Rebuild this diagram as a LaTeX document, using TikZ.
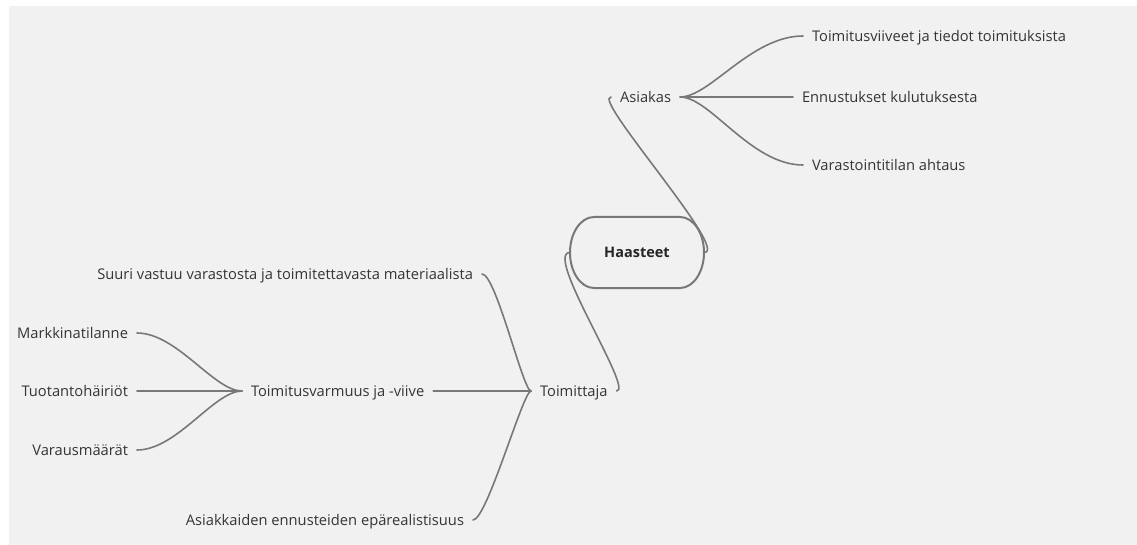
\documentclass[tikz,border=0pt]{standalone}
\usepackage{fontspec}
\setmainfont{Open Sans}
\definecolor{canvas}{HTML}{F1F1F1}
\definecolor{ink}{HTML}{353535}
\definecolor{wire}{HTML}{787878}
\begin{document}
\begin{tikzpicture}[x=1pt,y=-1pt,
  label/.style={inner xsep=9pt,inner ysep=2pt,outer sep=0pt,text=ink,
    text height=14pt,text depth=3pt,
    font=\fontsize{14.7}{17}\selectfont},
  link/.style={draw=wire,line width=1.6pt,line cap=round},
  hub/.style={draw=wire,line width=2pt}]
% page and canvas
\useasboundingbox (0,0) rectangle (1137,545);
\fill[white] (0,0) rectangle (1137,545);
\fill[canvas] (9,6) rectangle (1137,545);

% central topic
\node[minimum width=134pt,minimum height=71pt,inner sep=0pt,outer sep=0pt,
  text=black!85,font=\fontsize{14.5}{17}\bfseries\selectfont] (h) at (637,252.5) {Haasteet};
\draw[hub] (h.north west) ++(24,0)
  arc[start angle=270,end angle=180,x radius=24,y radius=35.5]
  arc[start angle=180,end angle=90,x radius=24,y radius=35.5]
  -- ++(86,0)
  arc[start angle=90,end angle=-90,x radius=24,y radius=35.5]
  -- cycle;

% right branch
\node[label,anchor=west] (asiakas) at (611,97) {Asiakas};
\node[label,anchor=west] (r1) at (803,36) {Toimitusviiveet ja tiedot toimituksista};
\node[label,anchor=west] (r2) at (793,97) {Ennustukset kulutuksesta};
\node[label,anchor=west] (r3) at (803,165) {Varastointitilan ahtaus};

% left branch
\node[label,anchor=west] (toimittaja) at (531,391) {Toimittaja};
\node[label,anchor=east] (l1) at (482,274) {Suuri vastuu varastosta ja toimitettavasta materiaalista};
\node[label,anchor=west] (l2) at (242,391) {Toimitusvarmuus ja -viive};
\node[label,anchor=east] (l3) at (473,520) {Asiakkaiden ennusteiden epärealistisuus};
\node[label,anchor=east] (m1) at (137,333) {Markkinatilanne};
\node[label,anchor=east] (m2) at (137,391) {Tuotantohäiriöt};
\node[label,anchor=east] (m3) at (137,450) {Varausmäärät};

% connectors from the central topic
\draw[link] (h.east) .. controls +(27,0) and +(-20,0) .. (asiakas.west);
\draw[link] (h.west) .. controls +(-27,0) and +(18,0) .. (toimittaja.east);

% Asiakas subtopics
\draw[link] (asiakas.east) .. controls +(30,0) and +(-52,0) .. (r1.west);
\draw[link] (asiakas.east) -- (r2.west);
\draw[link] (asiakas.east) .. controls +(30,0) and +(-52,0) .. (r3.west);

% Toimittaja subtopics
\draw[link] (toimittaja.west) .. controls +(-8,0) and +(14,0) .. (l1.east);
\draw[link] (toimittaja.west) -- (l2.east);
\draw[link] (toimittaja.west) .. controls +(-8,0) and +(14,0) .. (l3.east);

% Toimitusvarmuus subtopics
\draw[link] (l2.west) .. controls +(-28,0) and +(40,0) .. (m1.east);
\draw[link] (l2.west) -- (m2.east);
\draw[link] (l2.west) .. controls +(-28,0) and +(40,0) .. (m3.east);
\end{tikzpicture}
\end{document}
